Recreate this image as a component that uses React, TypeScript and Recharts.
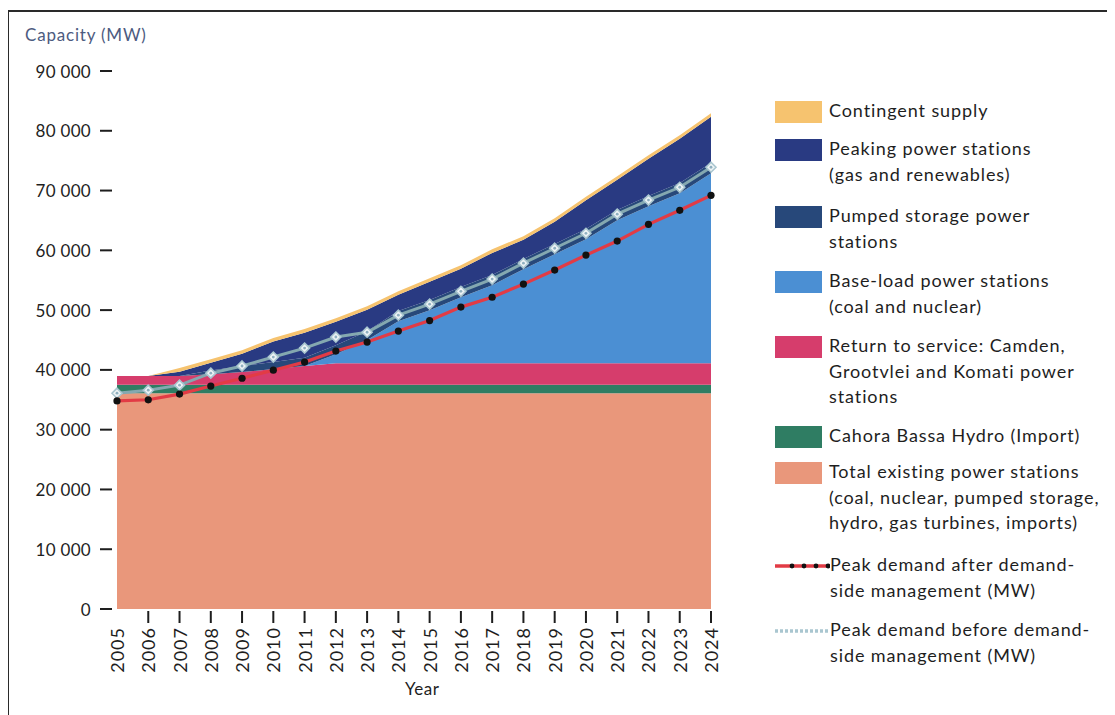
import React from "react";
import { ComposedChart, Area, Line, XAxis, YAxis } from "recharts";

const years = [2005, 2006, 2007, 2008, 2009, 2010, 2011, 2012, 2013, 2014, 2015, 2016, 2017, 2018, 2019, 2020, 2021, 2022, 2023, 2024];
const existing = [36100, 36100, 36100, 36100, 36100, 36100, 36100, 36100, 36100, 36100, 36100, 36100, 36100, 36100, 36100, 36100, 36100, 36100, 36100, 36100];
const cahoraBassa = [1400, 1400, 1400, 1400, 1400, 1400, 1400, 1400, 1400, 1400, 1400, 1400, 1400, 1400, 1400, 1400, 1400, 1400, 1400, 1400];
const returnToService = [1460, 1460, 1460, 1790, 2130, 2630, 3130, 3630, 3630, 3630, 3630, 3630, 3630, 3630, 3630, 3630, 3630, 3630, 3630, 3630];
const baseLoad = [0, 0, 0, 0, 0, 0, 0, 1500, 3850, 7020, 8860, 11040, 13040, 15720, 18230, 20730, 23910, 26250, 28430, 31770];
const pumpedStorage = [0, 0, 0, 600, 1000, 1200, 1400, 1500, 1500, 1700, 1700, 1700, 1700, 1700, 1700, 1700, 1700, 1700, 1700, 1700];
const peaking = [0, 0, 740, 1310, 2070, 3400, 4190, 3920, 3580, 2720, 3050, 3050, 3700, 3220, 3720, 4810, 5060, 6230, 7390, 7730];
const contingent = [0, 0, 600, 600, 600, 600, 600, 600, 600, 600, 600, 600, 600, 600, 600, 600, 600, 600, 600, 600];
const demandAfterDSM = [34800, 35000, 35950, 37300, 38600, 39950, 41300, 43150, 44650, 46500, 48250, 50500, 52150, 54350, 56700, 59200, 61550, 64350, 66700, 69200];
const demandBeforeDSM = [36100, 36600, 37450, 39450, 40650, 42150, 43650, 45500, 46300, 49150, 51000, 53150, 55200, 57850, 60350, 62850, 66050, 68400, 70550, 73900];
const yTicks = [0, 10000, 20000, 30000, 40000, 50000, 60000, 70000, 80000, 90000];

const COLORS = {
  existing: "#e9977b",
  cahora: "#2f7d63",
  rts: "#d63d6c",
  base: "#4b8fd3",
  pumped: "#27487a",
  peaking: "#293a82",
  contingent: "#f6c36f",
  after: "#e23b45",
  before: "#84a8b0",
};

const data = years.map((year, i) => ({
  year,
  existing: existing[i],
  cahora: cahoraBassa[i],
  rts: returnToService[i],
  base: baseLoad[i],
  pumped: pumpedStorage[i],
  peaking: peaking[i],
  contingent: contingent[i],
  after: demandAfterDSM[i],
  before: demandBeforeDSM[i],
}));

const FONT = "Lato, 'Open Sans', sans-serif";
const TEXT = "#1e1e1e";
const fmt = (v: number) => String(v).replace(/\B(?=(\d{3})+(?!\d))/g, " ");

const YTick = (props: any) => {
  const { x, y, payload } = props;
  return (
    <g>
      <text x={x - 26} y={y} textAnchor="end" dominantBaseline="central" fontFamily={FONT} fontSize={17} letterSpacing={0.3} fill={TEXT}>
        {fmt(payload.value)}
      </text>
      <line x1={x - 17} x2={x - 5} y1={y} y2={y} stroke={TEXT} strokeWidth={2} />
    </g>
  );
};

const XTick = (props: any) => {
  const { x, y, payload, index } = props;
  const ty = y + 18;
  return (
    <g>
      {index > 0 && <line x1={x} x2={x} y1={y + 2} y2={y + 14} stroke={TEXT} strokeWidth={2} />}
      <text x={x} y={ty} transform={`rotate(-90 ${x} ${ty})`} textAnchor="end" dominantBaseline="central" fontFamily={FONT} fontSize={18} letterSpacing={1} fill={TEXT}>
        {payload.value}
      </text>
    </g>
  );
};

const BlackDot = (props: any) => {
  const { cx, cy, index } = props;
  return <circle key={`a${index}`} cx={cx} cy={cy} r={3.6} fill="#111" />;
};

const DiamondDot = (props: any) => {
  const { cx, cy, index } = props;
  const s = 5;
  return (
    <g key={`b${index}`}>
      <path d={`M${cx},${cy - s} L${cx + s},${cy} L${cx},${cy + s} L${cx - s},${cy} Z`} fill="#eef3f5" stroke="#a9c6d0" strokeWidth={1.6} />
      <circle cx={cx} cy={cy} r={1.4} fill="#8fb0c0" />
    </g>
  );
};

const Swatch = ({ color }: { color: string }) => (
  <div style={{ position: "absolute", left: 0, top: 3, width: 47, height: 22, background: color }} />
);

const LegendEntry = ({ top, color, lines, kind }: { top: number; color?: string; lines: string[]; kind?: string }) => (
  <div style={{ position: "absolute", left: 767, top, width: 340 }}>
    {color && <Swatch color={color} />}
    {kind === "after" && (
      <svg style={{ position: "absolute", left: 0, top: 8 }} width={55} height={12}>
        <line x1={0} x2={55} y1={6} y2={6} stroke={COLORS.after} strokeWidth={3.5} />
        {[17, 29, 41, 53].map((cx) => (
          <circle key={cx} cx={cx} cy={6} r={2.4} fill="#111" />
        ))}
      </svg>
    )}
    {kind === "before" && (
      <svg style={{ position: "absolute", left: 0, top: 8 }} width={55} height={12}>
        <line x1={0} x2={55} y1={6} y2={6} stroke="#a9c6d0" strokeWidth={3.5} strokeDasharray="3 2" />
      </svg>
    )}
    <div style={{ marginLeft: kind ? 55 : 54, fontFamily: FONT, fontSize: 18, letterSpacing: 0.9, lineHeight: "25.5px", color: TEXT, whiteSpace: "nowrap" }}>
      {lines.map((l, i) => (
        <div key={i}>{l}</div>
      ))}
    </div>
  </div>
);

export default function App() {
  return (
    <div style={{ position: "relative", width: 1107, height: 707, background: "#fff", overflow: "hidden" }}>
      <div style={{ position: "absolute", left: -1, top: 2, width: 1120, height: 720, borderTop: "2px solid #2a2a2a", borderLeft: "2px solid #2a2a2a" }} />
      <div style={{ position: "absolute", left: 17, top: 16, fontFamily: FONT, fontSize: 17, letterSpacing: 0.8, color: "#4d5b80" }}>Capacity (MW)</div>
      <ComposedChart width={1107} height={707} data={data} margin={{ top: 63, right: 404, bottom: 26, left: 0 }}>
        <XAxis
          dataKey="year"
          type="number"
          domain={[2005, 2024]}
          ticks={years}
          interval={0}
          axisLine={false}
          tickLine={false}
          tickSize={0}
          tickMargin={0}
          height={80}
          tick={<XTick />}
        />
        <YAxis
          type="number"
          domain={[0, 90000]}
          ticks={yTicks}
          interval={0}
          axisLine={false}
          tickLine={false}
          tickSize={0}
          tickMargin={0}
          width={109}
          tick={<YTick />}
        />
        <Area type="linear" dataKey="existing" stackId="1" stroke="none" fill={COLORS.existing} fillOpacity={1} isAnimationActive={false} dot={false} activeDot={false} />
        <Area type="linear" dataKey="cahora" stackId="1" stroke="none" fill={COLORS.cahora} fillOpacity={1} isAnimationActive={false} dot={false} activeDot={false} />
        <Area type="linear" dataKey="rts" stackId="1" stroke="none" fill={COLORS.rts} fillOpacity={1} isAnimationActive={false} dot={false} activeDot={false} />
        <Area type="linear" dataKey="base" stackId="1" stroke="none" fill={COLORS.base} fillOpacity={1} isAnimationActive={false} dot={false} activeDot={false} />
        <Area type="linear" dataKey="pumped" stackId="1" stroke="none" fill={COLORS.pumped} fillOpacity={1} isAnimationActive={false} dot={false} activeDot={false} />
        <Area type="linear" dataKey="peaking" stackId="1" stroke="none" fill={COLORS.peaking} fillOpacity={1} isAnimationActive={false} dot={false} activeDot={false} />
        <Area type="linear" dataKey="contingent" stackId="1" stroke="none" fill={COLORS.contingent} fillOpacity={1} isAnimationActive={false} dot={false} activeDot={false} />
        <Line type="linear" dataKey="before" stroke={COLORS.before} strokeWidth={3} dot={<DiamondDot />} activeDot={false} isAnimationActive={false} />
        <Line type="linear" dataKey="after" stroke={COLORS.after} strokeWidth={3.2} dot={<BlackDot />} activeDot={false} isAnimationActive={false} />
      </ComposedChart>
      <div style={{ position: "absolute", left: 397, top: 670, fontFamily: FONT, fontSize: 17, letterSpacing: 0.5, color: TEXT }}>Year</div>
      <LegendEntry top={90} color={COLORS.contingent} lines={["Contingent supply"]} />
      <LegendEntry top={128} color={COLORS.peaking} lines={["Peaking power stations", "(gas and renewables)"]} />
      <LegendEntry top={195} color={COLORS.pumped} lines={["Pumped storage power", "stations"]} />
      <LegendEntry top={260} color={COLORS.base} lines={["Base-load power stations", "(coal and nuclear)"]} />
      <LegendEntry top={325} color={COLORS.rts} lines={["Return to service: Camden,", "Grootvlei and Komati power", "stations"]} />
      <LegendEntry top={415} color={COLORS.cahora} lines={["Cahora Bassa Hydro (Import)"]} />
      <LegendEntry top={451} color={COLORS.existing} lines={["Total existing power stations", "(coal, nuclear, pumped storage,", "hydro, gas turbines, imports)"]} />
      <LegendEntry top={544} kind="after" lines={["Peak demand after demand-", "side management (MW)"]} />
      <LegendEntry top={609} kind="before" lines={["Peak demand before demand-", "side management (MW)"]} />
    </div>
  );
}
